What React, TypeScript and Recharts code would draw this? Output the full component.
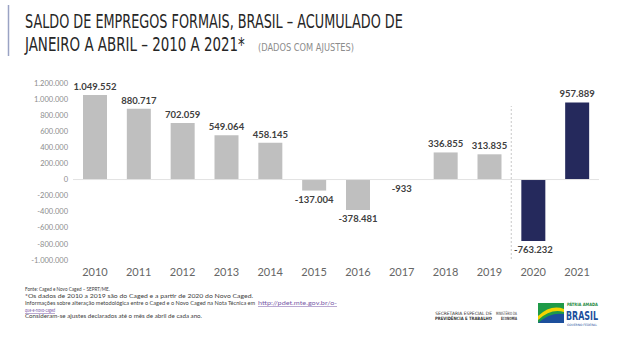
import React, { useLayoutEffect, useRef, useState } from 'react';
import { BarChart, Bar, XAxis, YAxis, Cell, LabelList, ReferenceLine } from 'recharts';

const years = ['2010', '2011', '2012', '2013', '2014', '2015', '2016', '2017', '2018', '2019', '2020', '2021'];
const saldo = [1049552, 880717, 702059, 549064, 458145, -137004, -378481, -933, 336855, 313835, -763232, 957889];
const yTicks = [-1000000, -800000, -600000, -400000, -200000, 0, 200000, 400000, 600000, 800000, 1000000, 1200000];
const novoCagedFrom = '2020';

const data = years.map((ano, i) => ({ ano, saldo: saldo[i] }));

const fmt = (v: number) => {
  const s = Math.abs(Math.round(v)).toString().replace(/\B(?=(\d{3})+(?!\d))/g, '.');
  return v < 0 ? '-' + s : s;
};

const GRAY = '#bfbfbf';
const NAVY = '#25295c';
const FONT = 'Lato, "DejaVu Sans", sans-serif';
const NARROW = '"Liberation Sans Narrow", "DejaVu Sans Condensed", sans-serif';
const COND = '"DejaVu Sans Condensed", sans-serif';

// squeezes/stretches a text horizontally so it spans `width` px
const FitText = ({ x, y, width, anchor = 'start', children, ...rest }: any) => {
  const ref = useRef<SVGTextElement>(null);
  const [s, setS] = useState(1);
  useLayoutEffect(() => {
    if (ref.current) {
      const w = ref.current.getComputedTextLength();
      if (w > 0) setS(width / w);
    }
  }, [width]);
  return (
    <text
      ref={ref}
      x={x}
      y={y}
      textAnchor={anchor}
      transform={`translate(${x} 0) scale(${s} 1) translate(${-x} 0)`}
      {...rest}
    >
      {children}
    </text>
  );
};

const ValueLabel = (props: any) => {
  const { x, y, width, height, value } = props;
  const top = Math.min(y, y + height);
  const bottom = Math.max(y, y + height);
  const ty = value >= 0 ? top - 5 : bottom + 12.5;
  return (
    <text x={x + width / 2} y={ty} textAnchor="middle" fontSize={9.5} fontWeight={700} fill="#404040" fontFamily={FONT}>
      {fmt(value)}
    </text>
  );
};

const Divider = (props: any) => {
  const { x1, y1, y2 } = props;
  const xx = x1 - 22;
  return <line x1={xx} x2={xx} y1={y1 - 1} y2={y2 + 23} stroke="#c8c8c8" strokeWidth={1} strokeDasharray="2 2" />;
};

const App: React.FC = () => {
  return (
    <div style={{ position: 'absolute', left: 0, top: 0, width: 640, height: 342, background: '#fff', overflow: 'hidden' }}>
      <svg width={640} height={342} style={{ position: 'absolute', left: 0, top: 0 }}>
        <line x1={8.5} x2={8.5} y1={5} y2={56} stroke="#9aa3c4" strokeWidth={1.5} />
        <FitText x={25} y={28.5} width={378} fontSize={20} fill="#262626" fontFamily={NARROW}>
          SALDO DE EMPREGOS FORMAIS, BRASIL – ACUMULADO DE
        </FitText>
        <FitText x={25} y={51} width={220} fontSize={20} fill="#262626" fontFamily={NARROW}>
          JANEIRO A ABRIL – 2010 A 2021*
        </FitText>
        <FitText x={258} y={51} width={96} fontSize={11} fill="#8c8c8c" fontFamily={NARROW}>
          (DADOS COM AJUSTES)
        </FitText>

        <g fontFamily={FONT} fontSize={5.2} fill="#404040">
          <FitText x={25} y={291} width={85}>Fonte: Caged e Novo Caged – SEPRT/ME.</FitText>
          <FitText x={25} y={298.5} width={228}>*Os dados de 2010 a 2019 são do Caged e a partir de 2020 do Novo Caged.</FitText>
          <FitText x={25} y={305.5} width={230}>Informações sobre alteração metodológica entre o Caged e o Novo Caged na Nota Técnica em</FitText>
          <FitText x={258} y={305.5} width={79} fill="#7a5aa8" textDecoration="underline">http://pdet.mte.gov.br/o-</FitText>
          <FitText x={25} y={312} width={30} fill="#7a5aa8" textDecoration="underline">que-e-novo-caged</FitText>
          <FitText x={25} y={318.5} width={177}>Consideram-se ajustes declarados até o mês de abril de cada ano.</FitText>
        </g>

        <g fontFamily={COND} fill="#333" fontSize={4.5}>
          <FitText x={492} y={315} width={57} anchor="end">SECRETARIA ESPECIAL DE</FitText>
          <FitText x={492} y={320.5} width={57} anchor="end" fontWeight={700}>PREVIDÊNCIA E TRABALHO</FitText>
          <FitText x={517} y={315} width={21} anchor="end">MINISTÉRIO DA</FitText>
          <FitText x={517} y={320.5} width={16} anchor="end" fontWeight={700}>ECONOMIA</FitText>
        </g>
        <g>
          <rect x={538} y={303} width={26} height={20} fill="#1f9a48" />
          <path d="M538 316 Q551 304 564 309 L564 312 Q551 308 538 320 Z" fill="#f5d400" />
          <path d="M538 323 Q550 312 564 314 L564 323 Z" fill="#1d4f9c" />
          <FitText x={567} y={306.5} width={31} fontSize={4.5} fontWeight={700} fill="#1f8a44" fontFamily={COND}>PÁTRIA AMADA</FitText>
          <FitText x={566} y={319.6} width={32} fontSize={13} fontWeight={700} fill="#1d4f9c" fontFamily={COND}>BRASIL</FitText>
          <FitText x={567} y={326} width={30} fontSize={3} fill="#1d4f9c" fontFamily={COND}>GOVERNO FEDERAL</FitText>
        </g>
      </svg>

      <div style={{ position: 'absolute', left: 0, top: 0 }}>
        <BarChart width={640} height={342} data={data} margin={{ top: 83, right: 41, left: 0, bottom: 62 }} barSize={24}>
          <XAxis
            dataKey="ano"
            axisLine={false}
            tickLine={false}
            tickSize={0}
            tickMargin={8}
            height={20}
            interval={0}
            tick={{ fontSize: 11, fill: '#666666', fontFamily: FONT }}
          />
          <YAxis
            domain={[-1000000, 1200000]}
            ticks={yTicks}
            axisLine={false}
            tickLine={false}
            tickSize={0}
            tickMargin={5}
            width={73}
            interval={0}
            tickFormatter={fmt}
            tick={{ fontSize: 7.5, fill: '#8c8c8c', fontFamily: FONT }}
          />
          <ReferenceLine y={0} stroke="#e3e3e3" strokeWidth={1} />
          <ReferenceLine x={novoCagedFrom} shape={Divider} />
          <Bar dataKey="saldo" isAnimationActive={false}>
            {data.map((d) => (
              <Cell key={d.ano} fill={d.ano >= novoCagedFrom ? NAVY : GRAY} />
            ))}
            <LabelList dataKey="saldo" content={ValueLabel} />
          </Bar>
        </BarChart>
      </div>
    </div>
  );
};

export default App;
